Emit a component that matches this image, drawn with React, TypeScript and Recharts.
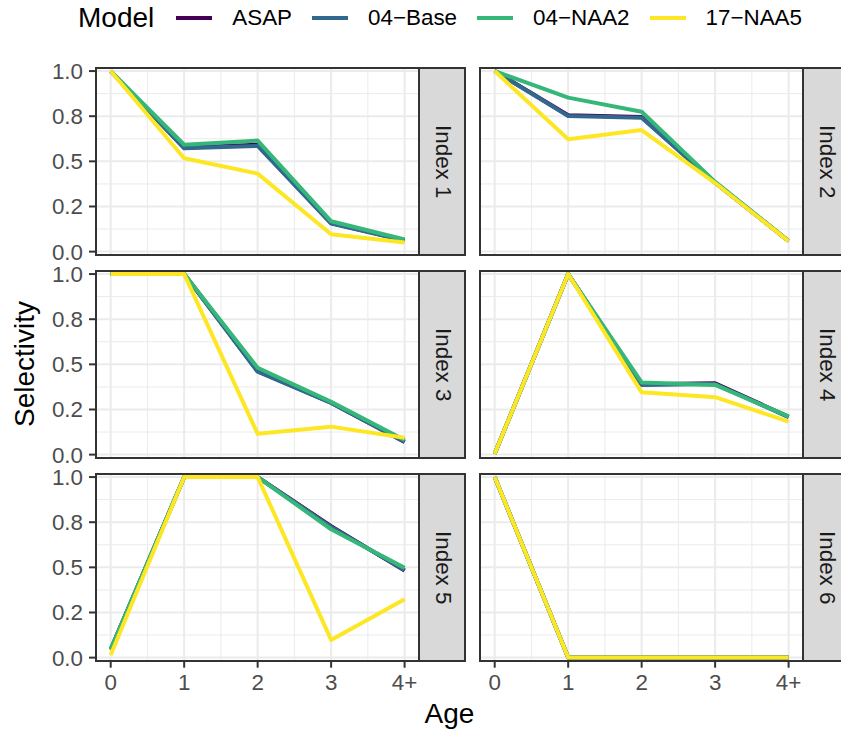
import React from "react";
import { LineChart, Line, XAxis, YAxis, CartesianGrid } from "recharts";

// ---------- data ----------
const ageValues = [0, 1, 2, 3, 4];
const ageLabels = ["0", "1", "2", "3", "4+"];
const xMinorValues = [0.5, 1.5, 2.5, 3.5];
const yTickValues = [0, 0.25, 0.5, 0.75, 1];
const yTickLabels = ["0.0", "0.2", "0.5", "0.8", "1.0"];
const yMinorValues = [0.125, 0.375, 0.625, 0.875];

const indexNames = ["Index 1", "Index 2", "Index 3", "Index 4", "Index 5", "Index 6"];
const modelNames = ["ASAP", "04\u2212Base", "04\u2212NAA2", "17\u2212NAA5"];
const modelColors = ["#440154", "#31688E", "#35B779", "#FDE725"];

// selectivity at age 0,1,2,3,4+ for each index
const selASAP = [
  [1.0, 0.575, 0.592, 0.158, 0.063],
  [1.0, 0.755, 0.745, 0.382, 0.059],
  [1.0, 1.0, 0.462, 0.288, 0.07],
  [0.005, 1.0, 0.39, 0.395, 0.21],
  [0.045, 1.0, 1.0, 0.728, 0.482],
  [1.0, 0.0, 0.0, 0.0, 0.0],
];
const selBase = [
  [1.0, 0.572, 0.585, 0.155, 0.062],
  [1.0, 0.751, 0.742, 0.382, 0.059],
  [1.0, 1.0, 0.459, 0.286, 0.072],
  [0.005, 1.0, 0.386, 0.391, 0.208],
  [0.045, 1.0, 1.0, 0.724, 0.485],
  [1.0, 0.0, 0.0, 0.0, 0.0],
];
const selNAA2 = [
  [1.0, 0.592, 0.615, 0.168, 0.067],
  [1.0, 0.853, 0.775, 0.386, 0.06],
  [1.0, 1.0, 0.481, 0.292, 0.081],
  [0.005, 1.0, 0.4, 0.386, 0.212],
  [0.046, 1.0, 1.0, 0.711, 0.497],
  [1.0, 0.0, 0.0, 0.0, 0.0],
];
const selNAA5 = [
  [1.0, 0.517, 0.432, 0.096, 0.051],
  [1.0, 0.622, 0.673, 0.38, 0.058],
  [1.0, 1.0, 0.115, 0.155, 0.094],
  [0.005, 1.0, 0.345, 0.318, 0.183],
  [0.015, 1.0, 1.0, 0.098, 0.323],
  [1.0, 0.0, 0.0, 0.0, 0.0],
];
const modelSeries = [selASAP, selBase, selNAA2, selNAA5];

// ---------- layout ----------
const FONT = "'Liberation Sans', Arial, Helvetica, sans-serif";
const PLOT_X = [96, 480];
const PLOT_Y = [68.3, 271.2, 474];
const PLOT_W = 323.3;
const PLOT_H = 186.7;
const STRIP_W = 46;
const AX_W = 60;
const AX_H = 44;
const TOP_PAD = 16;
const BORDER = "#333333";

const EmptyTick = () => <g />;

function Panel({ idx }: { idx: number }) {
  const row = Math.floor(idx / 2);
  const col = idx % 2;
  const showY = col === 0;
  const showX = row === 2;
  const data = ageValues.map((a, j) => {
    const r: any = { age: a };
    modelSeries.forEach((s, m) => {
      r["m" + m] = s[idx][j];
    });
    return r;
  });
  const px = PLOT_X[col];
  const py = PLOT_Y[row];
  const tickStyle = { fill: "#4D4D4D", fontSize: 22.4, fontFamily: FONT };
  return (
    <>
      <div style={{ position: "absolute", left: px - AX_W, top: py - TOP_PAD }}>
        <LineChart
          width={AX_W + PLOT_W}
          height={PLOT_H + AX_H + TOP_PAD}
          data={data}
          margin={{ top: TOP_PAD, right: 0, bottom: 0, left: 0 }}
        >
          <CartesianGrid
            horizontalValues={yMinorValues}
            verticalValues={xMinorValues}
            stroke="#EBEBEB"
            strokeWidth={1}
          />
          <CartesianGrid
            horizontalValues={yTickValues}
            verticalValues={ageValues}
            stroke="#EBEBEB"
            strokeWidth={2}
          />
          <XAxis
            type="number"
            dataKey="age"
            domain={[-0.2, 4.2]}
            allowDataOverflow
            ticks={ageValues}
            tickFormatter={(v: number) => ageLabels[ageValues.indexOf(v)]}
            height={AX_H}
            axisLine={false}
            tick={showX ? tickStyle : EmptyTick}
            tickLine={showX ? { stroke: BORDER, strokeWidth: 2 } : { stroke: "none" }}
            tickSize={7}
            tickMargin={6}
            interval={0}
          />
          <YAxis
            type="number"
            domain={[-0.017, 1.017]}
            allowDataOverflow
            ticks={yTickValues}
            tickFormatter={(v: number) => yTickLabels[yTickValues.indexOf(v)]}
            width={AX_W}
            axisLine={false}
            tick={showY ? tickStyle : EmptyTick}
            tickLine={showY ? { stroke: BORDER, strokeWidth: 2 } : { stroke: "none" }}
            tickSize={7}
            tickMargin={6}
            interval={0}
          />
          {modelNames.map((name, m) => (
            <Line
              key={name}
              type="linear"
              dataKey={"m" + m}
              name={name}
              stroke={modelColors[m]}
              strokeWidth={4}
              strokeLinejoin="round"
              dot={false}
              activeDot={false}
              isAnimationActive={false}
            />
          ))}
        </LineChart>
      </div>
      <div
        style={{
          position: "absolute",
          left: px - 1,
          top: py - 1,
          width: PLOT_W + 2,
          height: PLOT_H + 2,
          border: `2px solid ${BORDER}`,
          boxSizing: "border-box",
          pointerEvents: "none",
        }}
      />
      <div
        style={{
          position: "absolute",
          left: px + PLOT_W - 1,
          top: py - 1,
          width: STRIP_W + 2,
          height: PLOT_H + 2,
          border: `2px solid ${BORDER}`,
          boxSizing: "border-box",
          background: "#D9D9D9",
          display: "flex",
          alignItems: "center",
          justifyContent: "center",
        }}
      >
        <span
          style={{
            writingMode: "vertical-rl",
            fontSize: 22.4,
            color: "#1A1A1A",
            fontFamily: FONT,
            whiteSpace: "nowrap",
            lineHeight: 1,
          }}
        >
          {indexNames[idx]}
        </span>
      </div>
    </>
  );
}

export default function App() {
  return (
    <div
      style={{
        position: "absolute",
        left: 0,
        top: 0,
        width: 841,
        height: 732,
        overflow: "hidden",
        background: "#FFFFFF",
        fontFamily: FONT,
      }}
    >
      {/* legend */}
      <div
        style={{
          position: "absolute",
          left: 78,
          top: 2,
          height: 32,
          display: "flex",
          alignItems: "center",
          whiteSpace: "nowrap",
        }}
      >
        <span style={{ fontSize: 28, color: "#000", lineHeight: 1 }}>Model</span>
        {modelNames.map((name, m) => (
          <span key={name} style={{ display: "flex", alignItems: "center" }}>
            <span
              style={{
                display: "inline-block",
                width: 36,
                height: 4,
                background: modelColors[m],
                marginLeft: m === 0 ? 22 : 20,
              }}
            />
            <span style={{ fontSize: 22.4, color: "#000", marginLeft: 20, lineHeight: 1 }}>
              {name}
            </span>
          </span>
        ))}
      </div>

      {indexNames.map((_, i) => (
        <Panel key={i} idx={i} />
      ))}

      {/* axis titles */}
      <div
        style={{
          position: "absolute",
          left: 25,
          top: 364,
          transform: "translate(-50%, -50%) rotate(-90deg)",
          fontSize: 28,
          lineHeight: 1,
          color: "#000",
          whiteSpace: "nowrap",
        }}
      >
        Selectivity
      </div>
      <div
        style={{
          position: "absolute",
          left: 449.5,
          top: 699.7,
          transform: "translateX(-50%)",
          fontSize: 28,
          lineHeight: 1,
          color: "#000",
          whiteSpace: "nowrap",
        }}
      >
        Age
      </div>
    </div>
  );
}
